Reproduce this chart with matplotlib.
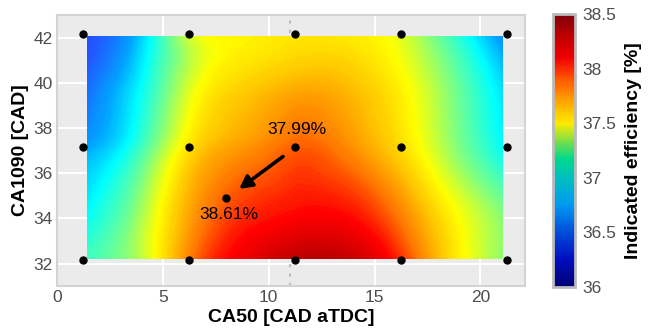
import numpy as np
import matplotlib
matplotlib.use('Agg')
import matplotlib.pyplot as plt
import matplotlib.tri as mtri
from matplotlib.colors import LinearSegmentedColormap, Normalize
from matplotlib.cm import ScalarMappable

plt.rcParams['font.family'] = ['Liberation Sans', 'DejaVu Sans']

# grid of the interpolated efficiency surface
ca50_grid = [1.45, 3.9, 6.35, 8.8, 11.25, 13.7, 16.15, 18.6, 21.05]
ca1090_grid = [32.2, 34.67, 37.13, 39.6, 42.05]
eff_grid = [
    [37.10, 37.35, 37.88, 38.14, 38.30, 38.28, 38.03, 37.60, 37.28],  # 32.2
    [36.92, 37.28, 37.76, 37.99, 38.06, 38.04, 37.83, 37.50, 37.22],  # 34.67
    [36.75, 37.08, 37.60, 37.80, 37.93, 37.84, 37.62, 37.30, 36.96],  # 37.13
    [36.60, 36.95, 37.45, 37.66, 37.76, 37.72, 37.55, 37.25, 36.88],  # 39.6
    [36.50, 36.82, 37.42, 37.53, 37.58, 37.56, 37.45, 37.10, 36.68],  # 42.05
]

# measured operating points
pts_ca50 = [1.25, 6.25, 11.25, 16.25, 21.25]
pts_ca1090 = [32.15, 37.15, 42.15]

# base point and optimum
base_pt = (11.25, 37.15)
base_label = '37.99%'
opt_pt = (8.0, 34.9)
opt_label = '38.61%'

vmin, vmax = 36, 38.5

# colours of the surface (bright jet-like)
surf_colors = [(0.00, (0.00, 0.00, 0.50)),
               (0.10, (0.00, 0.00, 0.90)),
               (0.20, (0.15, 0.30, 1.00)),
               (0.30, (0.00, 0.65, 1.00)),
               (0.38, (0.00, 1.00, 1.00)),
               (0.50, (0.50, 1.00, 0.50)),
               (0.60, (1.00, 1.00, 0.00)),
               (0.68, (1.00, 0.75, 0.00)),
               (0.76, (1.00, 0.45, 0.00)),
               (0.84, (1.00, 0.00, 0.00)),
               (0.92, (0.75, 0.00, 0.00)),
               (1.00, (0.50, 0.00, 0.00))]
surf_cmap = LinearSegmentedColormap.from_list('surf', surf_colors)

# colours of the colorbar (a bit darker)
cb_colors = [(0.00, (0.00, 0.00, 0.45)),
             (0.10, (0.00, 0.05, 0.75)),
             (0.20, (0.00, 0.30, 0.85)),
             (0.30, (0.00, 0.60, 0.95)),
             (0.40, (0.00, 0.75, 0.75)),
             (0.47, (0.00, 0.85, 0.55)),
             (0.53, (0.45, 0.87, 0.30)),
             (0.60, (1.00, 0.92, 0.00)),
             (0.68, (1.00, 0.65, 0.00)),
             (0.76, (1.00, 0.35, 0.00)),
             (0.84, (0.95, 0.00, 0.00)),
             (0.92, (0.75, 0.00, 0.00)),
             (1.00, (0.50, 0.00, 0.05))]
cb_cmap = LinearSegmentedColormap.from_list('cb', cb_colors)

fig = plt.figure(figsize=(6.48, 3.35), dpi=100)
ax = fig.add_axes([0.088, 0.146, 0.722, 0.809])
ax.set_facecolor('#EBEBEB')

# surface
X, Y = np.meshgrid(ca50_grid, ca1090_grid)
Z = np.array(eff_grid)
tri = mtri.Triangulation(X.ravel(), Y.ravel())
refiner = mtri.UniformTriRefiner(tri)
tri_f, z_f = refiner.refine_field(Z.ravel(), subdiv=4)
levels = np.linspace(vmin, vmax, 201)
ax.tricontourf(tri_f, np.clip(z_f, vmin, vmax), levels=levels, cmap=surf_cmap,
               vmin=vmin, vmax=vmax, zorder=2)

# dotted reference line
ax.axvline(11.0, color='#BBBBBB', linestyle=(0, (1.5, 3)), lw=1.5, zorder=1)

# points
px, py = np.meshgrid(pts_ca50, pts_ca1090)
ax.plot(px.ravel(), py.ravel(), 'o', color='black', ms=5, zorder=5, clip_on=False)
ax.plot(*opt_pt, 'o', color='black', ms=5, zorder=5)

ax.annotate('', xy=(8.5, 35.23), xytext=(10.78, 36.81),
            arrowprops=dict(arrowstyle='-|>,head_length=0.75,head_width=0.4',
                            color='black', lw=2.6), zorder=6)
ax.text(base_pt[0] + 0.1, 37.6, base_label, ha='center', va='bottom', fontsize=12.5, zorder=6)
ax.text(opt_pt[0] + 0.1, 34.5, opt_label, ha='center', va='top', fontsize=12.5, zorder=6)

ax.set_xlim(0, 22.1)
ax.set_ylim(31, 43)
ax.set_xticks([0, 5, 10, 15, 20])
ax.set_yticks([32, 34, 36, 38, 40, 42])
ax.grid(True, color='white', lw=1.5, zorder=0)
ax.set_axisbelow(True)
ax.tick_params(length=0, labelsize=12.5, labelcolor='#4D4D4D', pad=3)
for s in ax.spines.values():
    s.set_color('#D3D3D3')
    s.set_linewidth(1.5)
ax.set_xlabel('CA50 [CAD aTDC]', fontsize=14, fontweight='bold', labelpad=3)
ax.set_ylabel('CA1090 [CAD]', fontsize=14, fontweight='bold', labelpad=3)

# colorbar
cax = fig.add_axes([0.853, 0.143, 0.035, 0.815])
cb = fig.colorbar(ScalarMappable(norm=Normalize(vmin, vmax), cmap=cb_cmap), cax=cax)
cb.set_ticks([36, 36.5, 37, 37.5, 38, 38.5])
cb.set_ticklabels(['36', '36.5', '37', '37.5', '38', '38.5'])
cb.outline.set_edgecolor('#BBBBBB')
cb.outline.set_linewidth(2)
cax.tick_params(length=0, labelsize=12.5, labelcolor='#4D4D4D', pad=5)
cb.set_label('Indicated efficiency [%]', fontsize=14, fontweight='bold', labelpad=6)

fig.savefig('out.png', dpi=100)
